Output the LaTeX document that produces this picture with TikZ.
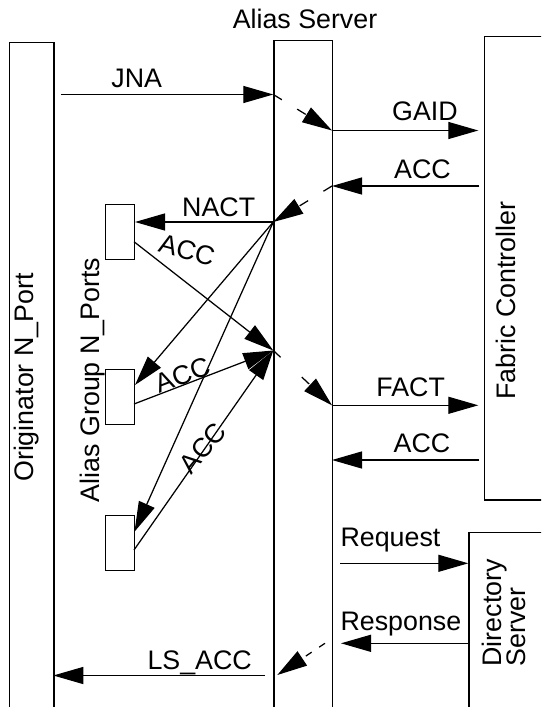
\documentclass[tikz,border=0pt]{standalone}
\usepackage{fontspec}
\setmainfont{Liberation Sans}
\usetikzlibrary{arrows.meta}

\begin{document}
\begin{tikzpicture}[x=1pt,y=-1pt,
  lane/.style={draw, line width=1.25pt, inner sep=0pt, anchor=north west},
  port/.style={draw, line width=1.25pt, inner sep=0pt, anchor=north west,
               minimum width=29pt, minimum height=54.5pt},
  lbl/.style={font=\fontsize{26.8}{29}\selectfont, inner sep=0pt, anchor=base},
  msg/.style={line width=1.25pt, -{Triangle[length=30pt,width=17pt]}},
  hop/.style={msg, dash pattern=on 10pt off 18pt},
]
\useasboundingbox (0,0) rectangle (541,707);
\clip (0,0) rectangle (541,707);

% lifelines and participant boxes
\node[lane, minimum width=44.3pt, minimum height=700pt] (orig) at (9,41.7) {};
\node[lane, minimum width=58.7pt, minimum height=700pt] (alias) at (273.3,40) {};
\node[lane, minimum width=100pt, minimum height=463.6pt] (fabric) at (484,35.7) {};
\node[lane, minimum width=100pt, minimum height=200pt] (dir) at (468.3,531.7) {};

% alias group members
\node[port] (g1) at (105,204) {};
\node[port] (g2) at (105,369) {};
\node[port] (g3) at (105,515) {};

% message end points
\coordinate (jnaS) at (61,94.5);
\coordinate (jnaE) at (273.3,94.5);
\coordinate (gaidS) at (332,130.5);
\coordinate (gaidE) at (478.3,130.5);
\coordinate (acc1S) at (479.3,186);
\coordinate (acc1E) at (332,186);
\coordinate (hub) at (273.3,222);
\coordinate (nactE) at (135,222);
\coordinate (g2in) at (135,385);
\coordinate (g3in) at (134.5,531.7);
\coordinate (g1out) at (134,241.7);
\coordinate (g2out) at (134,404);
\coordinate (g3out) at (134,550);
\coordinate (sink) at (273.3,350.5);
\coordinate (factS) at (332,405.3);
\coordinate (factE) at (478.3,405.3);
\coordinate (acc4S) at (479.3,460);
\coordinate (acc4E) at (332,460);
\coordinate (reqS) at (340,563.3);
\coordinate (reqE) at (468.3,563.3);
\coordinate (resS) at (468.3,643.3);
\coordinate (resE) at (341,643.3);
\coordinate (relay) at (325,643.3);
\coordinate (lsTip) at (277.3,675);
\coordinate (lsS) at (265,675.5);
\coordinate (lsE) at (53.3,675.5);

% messages
\draw[msg] (jnaS) -- (jnaE);
\draw[hop] (jnaE) -- (gaidS);
\draw[msg] (gaidS) -- (gaidE);
\draw[msg] (acc1S) -- (acc1E);
\draw[hop] (acc1E) -- (hub);
\draw[msg] (hub) -- (nactE);
\draw[msg] (hub) -- (g2in);
\draw[msg] (hub) -- (g3in);
\draw[msg] (g1out) -- (sink);
\draw[msg] (g2out) -- (sink);
\draw[msg] (g3out) -- (sink);
\draw[hop, dash pattern=on 10pt off 29pt] (sink) -- (factS);
\draw[msg] (factS) -- (factE);
\draw[msg] (acc4S) -- (acc4E);
\draw[msg] (reqS) -- (reqE);
\draw[msg] (resS) -- (resE);
\draw[hop, dash pattern=on 7pt off 9pt] (relay) -- (lsTip);
\draw[msg] (lsS) -- (lsE);

% horizontal labels
\node[lbl] (tAlias) at (305,28.3) {Alias Server};
\node[lbl] (tJNA) at (136.7,87.3) {JNA};
\node[lbl] (tGAID) at (425,120.7) {GAID};
\node[lbl] (tACC1) at (422.5,178.3) {ACC};
\node[lbl] (tNACT) at (218.7,216.7) {NACT};
\node[lbl] (tFACT) at (410.7,396.7) {FACT};
\node[lbl] (tACC4) at (422,452.3) {ACC};
\node[lbl] (tReq) at (390.5,546.7) {Request};
\node[lbl] (tRes) at (400.9,630) {Response};
\node[lbl] (tLS) at (199.7,669.3) {LS\_ACC};

% vertical labels
\node[lbl, rotate=90] (tOrig) at (33.3,377.5) {Originator N\_Port};
\node[lbl, rotate=90] (tGroup) at (99.3,380) {Alias Group N\_Ports};
\node[lbl, rotate=90] (tFabric) at (515,300.8) {Fabric Controller};
\node[lbl, rotate=90, anchor=base west] (tDir1) at (501.7,666.7) {Directory};
\node[lbl, rotate=90, anchor=base west] (tDir2) at (525,666.7) {Server};

% slanted replies from the group members
\node[lbl, anchor=center, rotate=-15] (tA1) at (187,250) {ACC};
\node[lbl, anchor=center, rotate=21] (tA2) at (183,375) {ACC};
\node[lbl, anchor=center, rotate=50] (tA3) at (203,448) {ACC};
\end{tikzpicture}
\end{document}
